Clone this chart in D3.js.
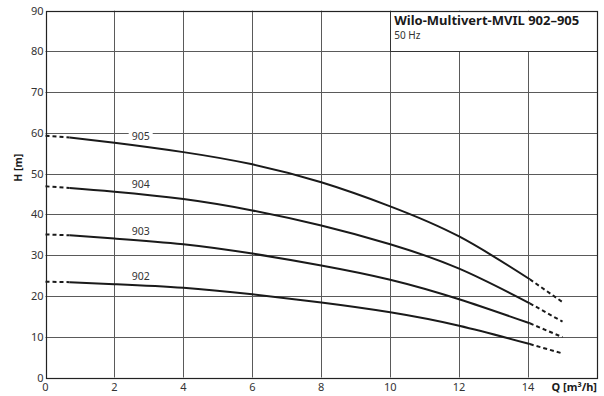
<!DOCTYPE html>
<html><head><meta charset="utf-8">
<script src="https://cdn.jsdelivr.net/npm/d3@7"></script>
<style>body{margin:0;background:#fff} svg{display:block}</style>
</head><body><svg id="c" width="604" height="396"></svg>
<script>
const xTicks = [0, 2, 4, 6, 8, 10, 12, 14];
const yTicks = [0, 10, 20, 30, 40, 50, 60, 70, 80, 90];
const curveNames = ["905", "904", "903", "902"];
const qSolid = [0.7, 2, 4, 6, 8, 10, 12, 14.05];
const h905 = [58.9, 57.6, 55.3, 52.3, 47.9, 42.0, 34.6, 24.1];
const h904 = [46.5, 45.6, 43.8, 41.0, 37.3, 32.7, 26.7, 18.2];
const h903 = [34.9, 34.1, 32.7, 30.4, 27.5, 24.0, 19.2, 13.3];
const h902 = [23.4, 22.9, 22.0, 20.4, 18.4, 16.0, 12.7, 8.2];
const qDashStart = 0, qDashEnd = 15.0;
const hStart = [59.3, 46.9, 35.1, 23.5];
const hEnd = [18.5, 13.7, 9.9, 5.9];
const labelQ = 2.5;
const title = "Wilo-Multivert-MVIL 902–905";
const subtitle = "50 Hz";
const xTitle = "Q [m³/h]";
const yTitle = "H [m]";

const series = [h905, h904, h903, h902];
const svg = d3.select("#c");
const font = "'Noto Sans', 'Open Sans', sans-serif";
const L = 45.5, R = 597, T = 10.7, B = 377.5;
const x = d3.scaleLinear().domain([0, 16]).range([L, R]);
const y = d3.scaleLinear().domain([0, 90]).range([B, T]);
const px = v => Math.round(v) + 0.5;

const g = svg.append("g");
// grid
g.selectAll(".vg").data(xTicks.filter(d => d > 0)).enter().append("line")
  .attr("x1", d => px(x(d))).attr("x2", d => px(x(d)))
  .attr("y1", y(0)).attr("y2", y(90))
  .attr("stroke", "#5a5a5a").attr("stroke-width", 1);
g.selectAll(".hg").data(yTicks.filter(d => d > 0 && d < 90)).enter().append("line")
  .attr("y1", d => px(y(d))).attr("y2", d => px(y(d)))
  .attr("x1", x(0)).attr("x2", x(16))
  .attr("stroke", "#5a5a5a").attr("stroke-width", 1);

// title box
g.append("rect").attr("x", px(x(10))).attr("y", px(y(90)))
  .attr("width", px(x(16)) - px(x(10))).attr("height", px(y(80)) - px(y(90)))
  .attr("fill", "#fff").attr("stroke", "#333").attr("stroke-width", 1);
g.append("text").attr("x", x(10) + 4).attr("y", y(90) + 14)
  .attr("font-family", font).attr("font-weight", "bold").attr("font-size", 13)
  .attr("fill", "#1a1a1a").text(title);
g.append("text").attr("x", x(10) + 4).attr("y", y(90) + 28)
  .attr("font-family", font).attr("font-size", 10)
  .attr("fill", "#333").text(subtitle);

// curves
const line = d3.line().x(d => x(d[0])).y(d => y(d[1])).curve(d3.curveNatural);
series.forEach((hs, i) => {
  const pts = qSolid.map((q, j) => [q, hs[j]]);
  g.append("path").attr("d", line(pts)).attr("fill", "none")
    .attr("stroke", "#1a1a1a").attr("stroke-width", 2);
  const lead = [[qDashStart, hStart[i]], pts[0]];
  const tail = [pts[pts.length - 1], [qDashEnd, hEnd[i]]];
  [lead, tail].forEach(seg => {
    g.append("path").attr("d", d3.line().x(d => x(d[0])).y(d => y(d[1]))(seg))
      .attr("fill", "none").attr("stroke", "#1a1a1a").attr("stroke-width", 2)
      .attr("stroke-dasharray", "4,3");
  });
  // label
  const hAt = d3.scaleLinear().domain(qSolid).range(hs)(labelQ);
  const ty = y(hAt) - 5;
  const t = g.append("text").attr("x", x(labelQ)).attr("y", ty)
    .attr("font-family", font).attr("font-size", 10.5).attr("fill", "#333")
    .text(curveNames[i]);
  const bb = t.node().getBBox();
  g.insert("rect", () => t.node()).attr("x", bb.x - 3).attr("y", bb.y + 1)
    .attr("width", bb.width + 6).attr("height", bb.height - 2).attr("fill", "#fff");
});

// frame
g.append("rect").attr("x", px(x(0))).attr("y", px(y(90)))
  .attr("width", px(x(16)) - px(x(0))).attr("height", px(y(0)) - px(y(90)))
  .attr("fill", "none").attr("stroke", "#222").attr("stroke-width", 1.2);

// tick labels
g.selectAll(".yl").data(yTicks).enter().append("text")
  .attr("x", x(0) - 2).attr("y", d => y(d) + 4)
  .attr("text-anchor", "end").attr("font-family", font).attr("font-size", 11)
  .attr("fill", "#333").text(d => d);
g.selectAll(".xl").data(xTicks).enter().append("text")
  .attr("x", d => x(d)).attr("y", 391)
  .attr("text-anchor", "middle").attr("font-family", font).attr("font-size", 11)
  .attr("fill", "#333").text(d => d);
g.append("text").attr("x", R).attr("y", 391).attr("text-anchor", "end")
  .attr("font-family", font).attr("font-weight", "bold").attr("font-size", 11)
  .attr("fill", "#1a1a1a").text(xTitle);
g.append("text").attr("transform", `translate(22,${(y(45) + y(55)) / 2 - 6}) rotate(-90)`)
  .attr("text-anchor", "middle").attr("font-family", font).attr("font-weight", "bold")
  .attr("font-size", 10.5).attr("fill", "#1a1a1a").text(yTitle);
</script></body></html>
